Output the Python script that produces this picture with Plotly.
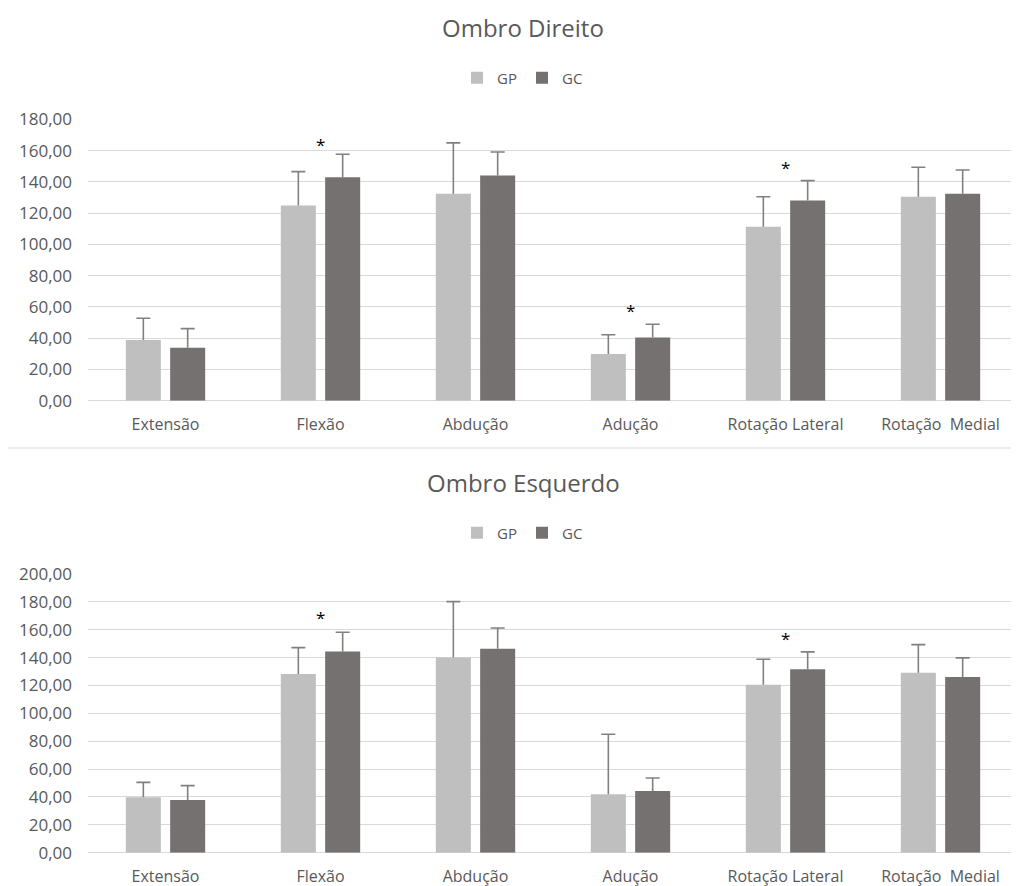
import plotly.graph_objects as go

# ---------------- data ----------------
categories = ["Extensão", "Flexão", "Abdução", "Adução", "Rotação Lateral", "Rotação\u00a0 Medial"]
series_names = ["GP", "GC"]

# Ombro Direito
dir_gp = [38.8, 124.8, 132.4, 29.9, 111.3, 130.5]
dir_gp_sd = [13.9, 21.7, 32.5, 12.3, 19.2, 18.8]
dir_gc = [33.9, 142.9, 144.0, 40.5, 128.0, 132.4]
dir_gc_sd = [12.2, 14.7, 15.1, 8.4, 12.8, 15.2]
dir_star_idx = [1, 3, 4]
dir_star_y = [164, 58, 149]

# Ombro Esquerdo
esq_gp = [39.8, 128.3, 140.0, 41.9, 120.6, 129.2]
esq_gp_sd = [10.7, 18.9, 40.2, 43.1, 18.2, 20.1]
esq_gc = [37.8, 144.3, 146.4, 44.3, 131.6, 126.1]
esq_gc_sd = [10.3, 13.9, 14.9, 9.3, 12.5, 13.7]
esq_star_idx = [1, 4]
esq_star_y = [169, 154]

titles = ["Ombro Direito", "Ombro Esquerdo"]
y_max = [180, 200]

# ---------------- style ----------------
C_GP = "#BFBFBF"
C_GC = "#767171"
C_ERR = "#808080"
C_TXT = "#595959"
C_GRID = "#D9D9D9"
FONT = "Open Sans"
BAR_W = 0.226
SHIFT = 0.143

# page has an 8px body margin: figure is sized to the remaining viewport
OFF = 8
W = 1019 - OFF
H = 886 - OFF


def px(xp):
    return (xp - OFF) / W


def py(yp):
    return 1 - (yp - OFF) / H


fig = go.Figure()

panels = [
    (dir_gp, dir_gp_sd, dir_gc, dir_gc_sd, dir_star_idx, dir_star_y, "x", "y", "legend"),
    (esq_gp, esq_gp_sd, esq_gc, esq_gc_sd, esq_star_idx, esq_star_y, "x2", "y2", "legend2"),
]

xs = list(range(len(categories)))
for gp, gp_sd, gc, gc_sd, s_idx, s_y, xa, ya, lg in panels:
    for name, vals, col, sh in [("GP", gp, C_GP, -SHIFT), ("GC", gc, C_GC, SHIFT)]:
        fig.add_trace(go.Bar(
            x=xs, y=vals, name=name, marker_color=col, marker_line_width=0,
            width=BAR_W, offset=sh - BAR_W / 2, xaxis=xa, yaxis=ya, legend=lg,
        ))
    for name, vals, sds, sh in [("GP", gp, gp_sd, -SHIFT), ("GC", gc, gc_sd, SHIFT)]:
        fig.add_trace(go.Scatter(
            x=[i + sh for i in xs], y=[v + s for v, s in zip(vals, sds)],
            mode="markers", showlegend=False, hoverinfo="skip",
            marker=dict(symbol="line-ew", size=10, line=dict(color=C_ERR, width=1.6)),
            error_y=dict(type="data", symmetric=False, array=[0] * len(sds), arrayminus=sds,
                         width=0, thickness=1.6, color=C_ERR),
            xaxis=xa, yaxis=ya,
        ))
    for i, yv in zip(s_idx, s_y):
        fig.add_annotation(x=i, y=yv, xref=xa, yref=ya, text="*", showarrow=False,
                           font=dict(family=FONT, size=17, color="#000000"), yanchor="middle")

x_dom = [px(88), px(1018)]
dom_top = [py(400.7), py(119.3)]
dom_bot = [py(852.7), py(574)]

common_x = dict(range=[-0.5, 5.5], tickmode="array", tickvals=xs, ticktext=categories,
                showgrid=False, zeroline=False, showline=False, ticks="", automargin=False,
                tickfont=dict(family=FONT, size=16, color=C_TXT), ticklabelstandoff=12,
                fixedrange=True)
common_y = dict(showgrid=True, gridcolor=C_GRID, gridwidth=1, zeroline=True, zerolinecolor=C_GRID,
                zerolinewidth=1, showline=False, ticks="", dtick=20, tickformat=".2f", automargin=False,
                tickfont=dict(family=FONT, size=17, color=C_TXT), ticklabelstandoff=15)

leg_common = dict(orientation="h", xanchor="center", yanchor="middle", itemwidth=30,
                  entrywidth=20, entrywidthmode="pixels",
                  font=dict(family=FONT, size=15, color=C_TXT), bgcolor="rgba(0,0,0,0)")

fig.update_layout(
    template="none",
    width=W, height=H, margin=dict(l=0, r=0, t=0, b=0, pad=0, autoexpand=False),
    paper_bgcolor="white", plot_bgcolor="white", separators=",.",
    showlegend=True, barmode="overlay",
    xaxis=dict(domain=x_dom, anchor="y", **common_x),
    yaxis=dict(domain=dom_top, range=[0, y_max[0]], anchor="x", **common_y),
    xaxis2=dict(domain=x_dom, anchor="y2", **common_x),
    yaxis2=dict(domain=dom_bot, range=[0, y_max[1]], anchor="x2", **common_y),
    legend=dict(x=px(522), y=py(78), **leg_common),
    legend2=dict(x=px(522), y=py(533), **leg_common),
)

for t, yp in zip(titles, [27, 483]):
    fig.add_annotation(text=t, x=px(523), y=py(yp), xref="paper", yref="paper",
                       showarrow=False, xanchor="center", yanchor="middle",
                       font=dict(family=FONT, size=24, color=C_TXT))

fig.add_shape(type="line", xref="paper", yref="paper", x0=px(8), x1=1, y0=py(448), y1=py(448),
              line=dict(color="#E6E6E6", width=1.5))

fig.write_html("out.html")
